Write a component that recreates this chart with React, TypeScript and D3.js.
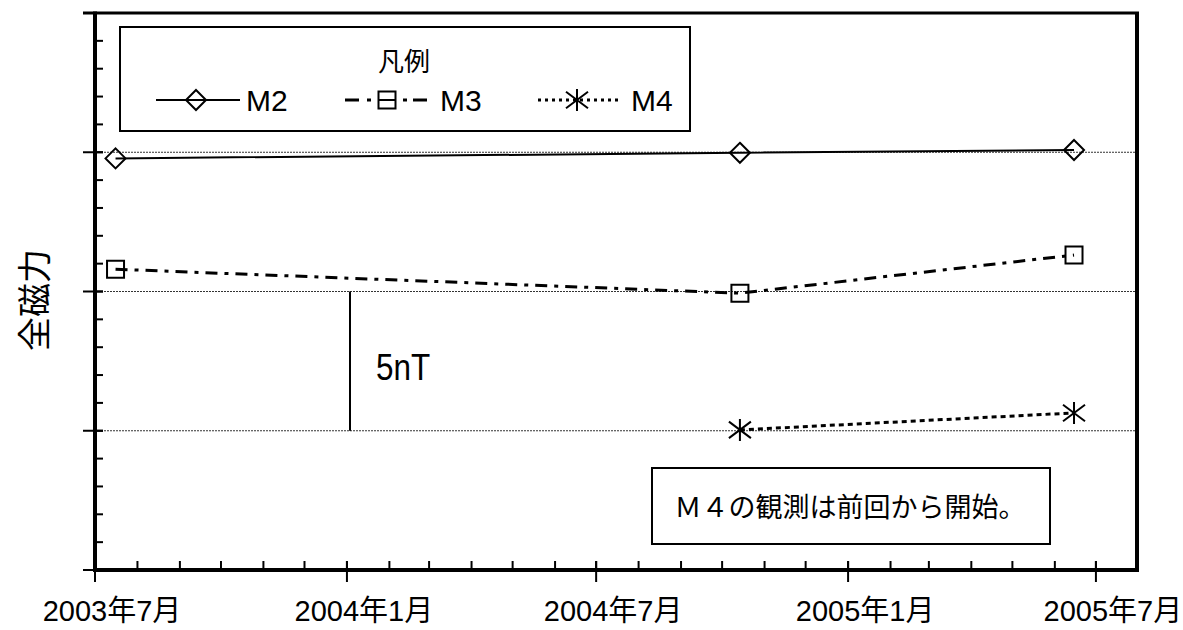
import React from 'react';
import * as d3 from 'd3';

// ---- data ----
const xTickDates = ['2003-07-01', '2004-01-01', '2004-07-01', '2005-01-01', '2005-07-01'];
const xTickLabels = ['2003年7月', '2004年1月', '2004年7月', '2005年1月', '2005年7月'];
const m2Dates = ['2003-07-16', '2004-10-14', '2005-06-15'];
const m2Values = [14.78, 14.98, 15.08];
const m3Dates = ['2003-07-16', '2004-10-14', '2005-06-15'];
const m3Values = [10.8, 9.94, 11.31];
const m4Dates = ['2004-10-14', '2005-06-15'];
const m4Values = [5.03, 5.64];
const yMajorValues = [0, 5, 10, 15, 20];
const yGridValues = [5, 10, 15];
const seriesNames = ['M2', 'M3', 'M4'];
const legendTitle = '凡例';
const yTitle = '全磁力';
const scaleLabel = '5nT';
const noteText = 'Ｍ４の観測は前回から開始。';

const W = 1183;
const H = 630;
const L = 95, R = 1137, T = 13, B = 570;
const LAT = '"Liberation Sans", Arial, "Noto Sans CJK JP", sans-serif';

const parse = (s: string) => new Date(s + 'T00:00:00Z');

const x = d3.scaleUtc().domain([parse('2003-07-01'), parse('2005-07-31')]).range([L, R]);
const y = d3.scaleLinear().domain([0, 20]).range([B, T]);

const diamond = (cx: number, cy: number, r = 10) =>
  `M${cx},${cy - r}L${cx + r},${cy}L${cx},${cy + r}L${cx - r},${cy}Z`;
const square = (cx: number, cy: number, r = 8.5) =>
  `M${cx - r},${cy - r}H${cx + r}V${cy + r}H${cx - r}Z`;
const asterisk = (cx: number, cy: number, r = 11) =>
  `M${cx},${cy - r}V${cy + r}M${cx - r},${cy - r * 0.75}L${cx + r},${cy + r * 0.75}M${cx - r},${cy + r * 0.75}L${cx + r},${cy - r * 0.75}`;

const line = d3.line<[number, number]>().x(d => d[0]).y(d => d[1]);

export default function App() {
  const m2 = m2Dates.map((d, i) => [x(parse(d)), y(m2Values[i])] as [number, number]);
  const m3 = m3Dates.map((d, i) => [x(parse(d)), y(m3Values[i])] as [number, number]);
  const m4 = m4Dates.map((d, i) => [x(parse(d)), y(m4Values[i])] as [number, number]);
  const minorMonths = d3.utcMonth.range(parse('2003-07-01'), parse('2005-07-31'));
  const minorY = d3.range(0, 21, 1);

  const ly = 100;
  return (
    <svg width={W} height={H} style={{ position: 'absolute', left: 0, top: 0, background: '#fff' }}>
      <rect x={0} y={0} width={W} height={H} fill="#fff" />
      {/* grid */}
      {yGridValues.map(v => (
        <line key={'g' + v} x1={L} x2={R} y1={y(v)} y2={y(v)} stroke="#333" strokeWidth={1} strokeDasharray="2,1" />
      ))}
      {/* y minor ticks */}
      {minorY.map(v => (
        <line key={'ym' + v} x1={L} x2={L + 8} y1={y(v)} y2={y(v)} stroke="#000" strokeWidth={2} />
      ))}
      {yMajorValues.map(v => (
        <line key={'yM' + v} x1={L - 12} x2={L + 8} y1={y(v)} y2={y(v)} stroke="#000" strokeWidth={2} />
      ))}
      {/* x minor ticks */}
      {minorMonths.map(d => (
        <line key={'xm' + d.getTime()} x1={x(d)} x2={x(d)} y1={B} y2={B - 9} stroke="#000" strokeWidth={2} />
      ))}
      {xTickDates.map((d, i) => (
        <g key={'xt' + d}>
          <line x1={x(parse(d))} x2={x(parse(d))} y1={B - 9} y2={B + 12} stroke="#000" strokeWidth={2} />
          <text x={x(parse(d)) + 17} y={621} textAnchor="middle" fontFamily={LAT} fontSize={29} fill="#000">
            {xTickLabels[i]}
          </text>
        </g>
      ))}
      {/* frame */}
      <line x1={L - 12} x2={R + 2} y1={T} y2={T} stroke="#000" strokeWidth={3} />
      <line x1={R} x2={R} y1={T} y2={B} stroke="#000" strokeWidth={4} />
      <line x1={L} x2={R + 2} y1={B} y2={B} stroke="#000" strokeWidth={4} />
      <line x1={L} x2={L} y1={T - 1.5} y2={B + 2} stroke="#000" strokeWidth={4} />

      {/* y title */}
      <text transform={`translate(35,300) rotate(-90)`} textAnchor="middle" dominantBaseline="central"
        fontFamily={LAT} fontSize={34} fill="#000">{yTitle}</text>

      {/* scale bar */}
      <line x1={350} x2={350} y1={y(10)} y2={y(5)} stroke="#000" strokeWidth={2} />
      <text transform="translate(376,380) scale(0.85,1)" fontFamily={LAT} fontSize={37} fill="#000">{scaleLabel}</text>

      {/* series */}
      <path d={line(m2) || ''} fill="none" stroke="#000" strokeWidth={2} />
      <path d={line(m3) || ''} fill="none" stroke="#000" strokeWidth={3} strokeDasharray="12,7,4,7" />
      <path d={line(m4) || ''} fill="none" stroke="#000" strokeWidth={3} strokeDasharray="5,4" />
      {m2.map((p, i) => <path key={'d' + i} d={diamond(p[0], p[1])} fill="none" stroke="#000" strokeWidth={2} />)}
      {m3.map((p, i) => <path key={'s' + i} d={square(p[0], p[1])} fill="none" stroke="#000" strokeWidth={2} />)}
      {m4.map((p, i) => <path key={'a' + i} d={asterisk(p[0], p[1])} fill="none" stroke="#000" strokeWidth={2} />)}

      {/* legend */}
      <rect x={120} y={27} width={570} height={104} fill="#fff" stroke="#000" strokeWidth={2} />
      <text x={404} y={62} textAnchor="middle" dominantBaseline="central" fontFamily={LAT} fontSize={26} fill="#000">{legendTitle}</text>
      <line x1={156} x2={240} y1={ly} y2={ly} stroke="#000" strokeWidth={2} />
      <path d={diamond(196, ly, 10)} fill="none" stroke="#000" strokeWidth={2} />
      <text x={246} y={ly + 11} fontFamily={LAT} fontSize={30} fill="#000">{seriesNames[0]}</text>

      <line x1={345} x2={359} y1={ly} y2={ly} stroke="#000" strokeWidth={3} />
      <line x1={367} x2={371} y1={ly} y2={ly} stroke="#000" strokeWidth={3} />
      <line x1={379} x2={395} y1={ly} y2={ly} stroke="#000" strokeWidth={2} />
      <line x1={403} x2={407} y1={ly} y2={ly} stroke="#000" strokeWidth={3} />
      <line x1={413} x2={427} y1={ly} y2={ly} stroke="#000" strokeWidth={3} />
      <path d={square(387, ly, 8.5)} fill="none" stroke="#000" strokeWidth={2} />
      <text x={440} y={ly + 11} fontFamily={LAT} fontSize={30} fill="#000">{seriesNames[1]}</text>

      <line x1={538} x2={620} y1={ly} y2={ly} stroke="#000" strokeWidth={3} strokeDasharray="3,4" />
      <path d={asterisk(577, ly, 11)} fill="none" stroke="#000" strokeWidth={2} />
      <text x={631} y={ly + 11} fontFamily={LAT} fontSize={30} fill="#000">{seriesNames[2]}</text>

      {/* note box */}
      <rect x={652} y={468} width={398} height={76} fill="#fff" stroke="#000" strokeWidth={2} />
      <text x={850} y={508} textAnchor="middle" dominantBaseline="central" fontFamily={LAT} fontSize={27} fill="#000">{noteText}</text>
    </svg>
  );
}
